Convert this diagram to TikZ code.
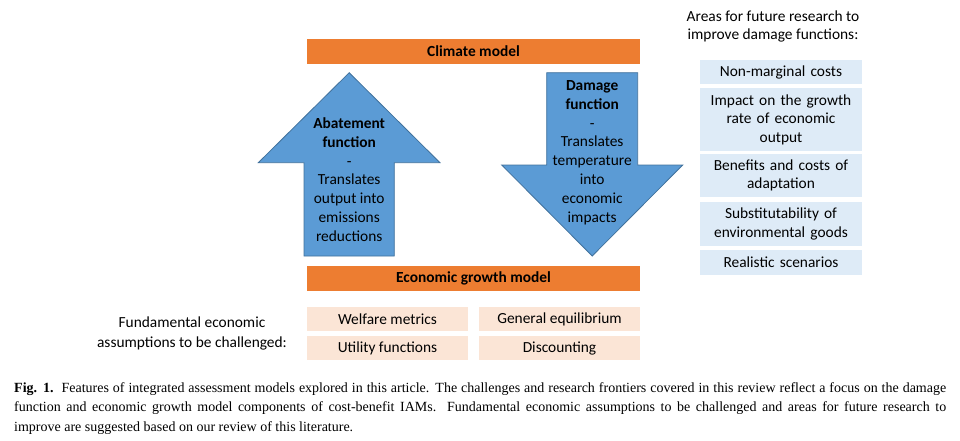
\documentclass[tikz,border=0pt]{standalone}
\usepackage{fontspec}
\setmainfont{Carlito}
\newfontfamily\capfont{Liberation Serif}
\definecolor{orng}{HTML}{ED7D31}
\definecolor{arrblue}{HTML}{5B9BD5}
\definecolor{arredge}{HTML}{41719C}
\definecolor{lblue}{HTML}{DEEBF7}
\definecolor{lpink}{HTML}{FBE5D6}
\begin{document}
\begin{tikzpicture}[x=1pt,y=-1pt,
  every node/.style={inner sep=0pt, font=\fontsize{15.4}{18.5}\selectfont},
  bar/.style={fill=orng, minimum width=333pt, minimum height=25pt, font=\fontsize{15.4}{18.5}\selectfont\bfseries},
  pinkbox/.style={fill=lpink, minimum width=161pt, minimum height=24pt},
  bluebox/.style={fill=lblue, minimum width=162pt, align=center, text width=160pt},
  bigarrow/.style={fill=arrblue, draw=arredge, line width=0.8pt},
  arrtext/.style={align=center, font=\fontsize{15.4}{18.8}\selectfont}]
\useasboundingbox (0,0) rectangle (960,440);

% bars
\node[bar] (climate) at (473.5,51.5) {Climate model};
\node[bar] (econ) at (473.5,278.5) {Economic growth model};

% arrows
\draw[bigarrow] (304,256) -- (304,162.7) -- (258.3,162.7) -- (349.2,72.7) -- (440,162.7) -- (394.3,162.7) -- (394.3,256) -- cycle;
\draw[bigarrow] (546.7,72.7) -- (637.7,72.7) -- (637.7,165) -- (682.7,165) -- (592.2,256) -- (501.7,165) -- (546.7,165) -- cycle;

\node[arrtext] (abate) at (349.2,179.6) {\textbf{Abatement}\\\textbf{function}\\-\\Translates\\output into\\emissions\\reductions};
\node[arrtext] (damage) at (592.2,152.5) {\textbf{Damage}\\\textbf{function}\\-\\Translates\\temperature\\into\\economic\\impacts};

% pink boxes
\node[pinkbox] (welfare) at (387.5,319) {Welfare metrics};
\node[pinkbox] (geneq) at (559.5,319) {General equilibrium};
\node[pinkbox] (utility) at (387.5,348) {Utility functions};
\node[pinkbox] (disc) at (559.5,348) {Discounting};
\node[align=center, font=\fontsize{15.4}{20}\selectfont] (fund) at (192,333) {Fundamental economic\\assumptions to be challenged:};

% right panel
\node[align=center] (areas) at (773,26.5) {Areas for future research to\\improve damage functions:};
\node[bluebox, minimum height=24pt] (b1) at (781,72) {Non-marginal costs};
\node[bluebox, minimum height=63pt] (b2) at (781,119.5) {Impact on the growth\\rate of economic\\output};
\node[bluebox, minimum height=43pt] (b3) at (781,175.5) {Benefits and costs of\\adaptation};
\node[bluebox, minimum height=44pt] (b4) at (781,224) {Substitutability of\\environmental goods};
\node[bluebox, minimum height=25pt] (b5) at (781,262.5) {Realistic scenarios};

% caption
\node[anchor=north west, text width=932pt, align=justify, font=\capfont\fontsize{14}{19.5}\selectfont] (caption) at (14,382)
{\textbf{Fig. 1.}\ \ Features of integrated assessment models explored in this article. The challenges and research frontiers covered in this review reflect a focus on the damage\linebreak function and economic growth model components of cost-benefit IAMs. Fundamental economic assumptions to be challenged and areas for future research to\linebreak improve are suggested based on our review of this literature.};
\end{tikzpicture}
\end{document}
